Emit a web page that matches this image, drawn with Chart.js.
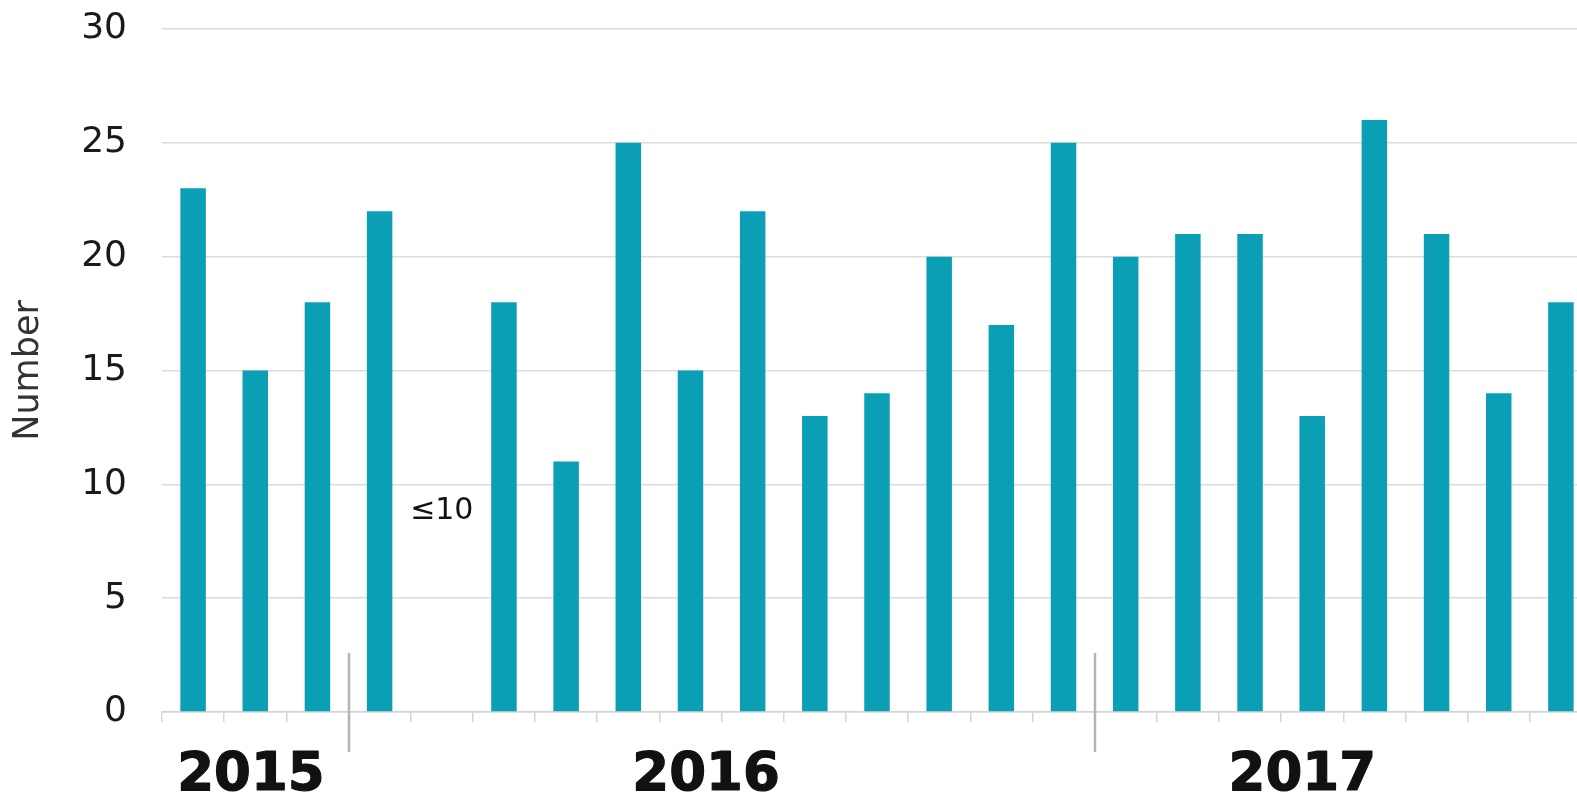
<!DOCTYPE html>
<html>
<head>
<meta charset="utf-8">
<script src="https://cdn.jsdelivr.net/npm/chart.js@4/dist/chart.umd.min.js"></script>
<style>
  html, body { margin: 0; padding: 0; background: #fff; overflow: hidden; }
  #wrap { position: absolute; left: 0; top: 0; width: 1600px; height: 792px; }
</style>
</head>
<body>
<div id="wrap"><canvas id="bar-chart"></canvas></div>
<script>
// monthly counts, Oct 2015 - Aug 2017 (null = suppressed, shown as "≤10")
const months = [
    "2015-10", "2015-11", "2015-12",
    "2016-01", "2016-02", "2016-03", "2016-04", "2016-05", "2016-06",
    "2016-07", "2016-08", "2016-09", "2016-10", "2016-11", "2016-12",
    "2017-01", "2017-02", "2017-03", "2017-04", "2017-05", "2017-06",
    "2017-07", "2017-08",
];
const counts = [
    23, 15, 18,
    22, null, 18, 11, 25, 15, 22, 13, 14, 20, 17, 25,
    20, 21, 21, 13, 26, 21, 14, 18,
];
const years = ["2015", "2016", "2017"];
const yearStarts = [0, 3, 15];
const yTicks = [0, 5, 10, 15, 20, 25, 30];

const FONT = "'DejaVu Sans', Verdana, sans-serif";

// year labels, year separators and the suppressed-value note
const yearPlugin = {
    id: "yearLabels",
    afterDraw(chart) {
        const { ctx, chartArea } = chart;
        const x = chart.scales.x;
        const y = chart.scales.y;
        ctx.save();

        // separators sit on the boundary before each new year
        ctx.strokeStyle = "#b4b4b4";
        ctx.lineWidth = 2.5;
        yearStarts.slice(1).forEach((i) => {
            const sx = Math.round((x.getPixelForValue(i - 1) + x.getPixelForValue(i)) / 2);
            ctx.beginPath();
            ctx.moveTo(sx, chartArea.bottom - 59);
            ctx.lineTo(sx, chartArea.bottom + 40);
            ctx.stroke();
        });

        // heavy year captions
        ctx.fillStyle = "#111";
        ctx.strokeStyle = "#111";
        ctx.lineWidth = 1.2;
        ctx.lineJoin = "round";
        ctx.font = "bold 53px " + FONT;
        ctx.textAlign = "center";
        ctx.textBaseline = "alphabetic";
        const anchors = [0.93, 8.25, 17.84];
        years.forEach((yr, k) => {
            const px = x.getPixelForValue(anchors[k]);
            ctx.fillText(yr, px, 790);
            ctx.strokeText(yr, px, 790);
        });

        ctx.font = "30px " + FONT;
        ctx.textBaseline = "middle";
        counts.forEach((v, i) => {
            if (v === null) {
                ctx.fillText("≤10", x.getPixelForValue(i), y.getPixelForValue(8.8));
            }
        });
        ctx.restore();
    },
};

const chartConfig = {
    type: "bar",
    data: {
        labels: months,
        datasets: [
            {
                label: "Number",
                data: counts,
                backgroundColor: "#0b9fb6",
                categoryPercentage: 1,
                barPercentage: 0.41,
            },
        ],
    },
    options: {
        responsive: true,
        maintainAspectRatio: false,
        animation: false,
        layout: {
            padding: { top: 29, right: 8, bottom: 70, left: 0 },
        },
        plugins: {
            legend: { display: false },
            tooltip: { enabled: false },
        },
        scales: {
            x: {
                grid: {
                    drawOnChartArea: false,
                    drawTicks: true,
                    tickLength: 10,
                    color: "#d4d4d4",
                    lineWidth: 1.5,
                },
                border: { display: true, color: "#d4d4d4", width: 1.5 },
                ticks: { display: false },
            },
            y: {
                min: 0,
                max: 30,
                afterFit(scale) {
                    scale.width = 162;
                    scale.paddingTop = 0;
                    scale.paddingBottom = 0;
                },
                afterBuildTicks(scale) {
                    scale.ticks = yTicks.map((v) => ({ value: v }));
                },
                grid: {
                    drawTicks: false,
                    color: "#dcdcdc",
                    lineWidth: 1.5,
                },
                border: { display: false },
                ticks: {
                    padding: 35,
                    color: "#1a1a1a",
                    font: { family: FONT, size: 36 },
                },
                title: {
                    display: true,
                    text: "Number",
                    color: "#333",
                    padding: { top: 8, bottom: 0 },
                    font: { family: FONT, size: 35 },
                },
            },
        },
    },
    plugins: [yearPlugin],
};

new Chart(document.getElementById("bar-chart"), chartConfig);
</script>
</body>
</html>
